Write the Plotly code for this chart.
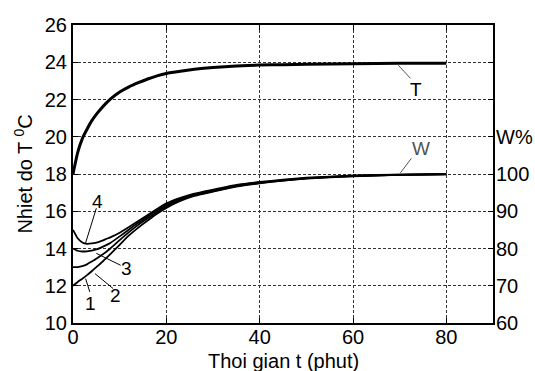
import plotly.graph_objects as go

# time (minutes)
t = [0, 1, 2, 3, 4, 5, 6, 7, 8, 10, 12, 14, 16, 18, 20, 23, 26, 30, 35, 40, 45, 50, 60, 70, 80]

# temperature T (deg C)
T = [18.0, 19.15, 19.9, 20.4, 20.85, 21.2, 21.5, 21.78, 22.02, 22.4, 22.68, 22.9, 23.1,
     23.27, 23.4, 23.52, 23.62, 23.72, 23.8, 23.85, 23.87, 23.89, 23.92, 23.94, 23.95]

# humidity curves (in left-axis units: 10..18 <-> 60..100 %)
W1 = [12.0, 12.2, 12.38, 12.57, 12.78, 13.0, 13.22, 13.46, 13.7, 14.2, 14.7, 15.12, 15.5,
      15.86, 16.18, 16.55, 16.82, 17.05, 17.32, 17.5, 17.64, 17.75, 17.88, 17.95, 17.98]
W2 = [13.0, 13.0, 13.05, 13.15, 13.3, 13.45, 13.62, 13.8, 14.0, 14.45, 14.88, 15.27, 15.62,
      15.95, 16.25, 16.6, 16.86, 17.08, 17.35, 17.52, 17.65, 17.76, 17.89, 17.95, 17.98]
W3 = [14.0, 13.88, 13.84, 13.85, 13.88, 13.95, 14.05, 14.17, 14.3, 14.65, 15.02, 15.38, 15.72,
      16.04, 16.33, 16.66, 16.9, 17.12, 17.38, 17.54, 17.67, 17.78, 17.9, 17.96, 17.99]
W4 = [15.0, 14.55, 14.32, 14.25, 14.27, 14.32, 14.4, 14.5, 14.6, 14.85, 15.15, 15.48, 15.8,
      16.12, 16.42, 16.72, 16.95, 17.16, 17.41, 17.57, 17.69, 17.8, 17.92, 17.97, 18.0]

x_ticks = [0, 20, 40, 60, 80]
y_ticks = [10, 12, 14, 16, 18, 20, 22, 24, 26]
w_tickvals = [10, 12, 14, 16, 18, 20]
w_ticktext = ["60", "70", "80", "90", "100", "W%"]

FONT = "Liberation Sans, Arial, sans-serif"

fig = go.Figure()
fig.add_trace(go.Scatter(x=t, y=T, mode="lines",
                         line=dict(color="black", width=3, shape="spline", smoothing=0.5),
                         showlegend=False))
for W in (W1, W2, W3, W4):
    fig.add_trace(go.Scatter(x=t, y=W, mode="lines",
                             line=dict(color="black", width=1.8, shape="spline", smoothing=0.4),
                             showlegend=False))
# invisible trace for right axis
fig.add_trace(go.Scatter(x=[0], y=[10], yaxis="y2", mode="markers", marker=dict(opacity=0),
                         showlegend=False, hoverinfo="skip"))

# leader lines and labels
leaders = [
    (69.7, 23.84, 72.3, 23.14, "#555"),
    (72.5, 18.84, 70.1, 18.04, "#555"),
    (5.0, 16.16, 2.7, 14.3, "black"),
    (10.2, 13.1, 5.0, 13.74, "black"),
    (8.6, 11.85, 4.7, 12.65, "black"),
    (3.6, 11.67, 2.7, 12.38, "black"),
]
for x0, y0, x1, y1, c in leaders:
    fig.add_shape(type="line", xref="x", yref="y", x0=x0, y0=y0, x1=x1, y1=y1,
                  line=dict(color=c, width=1))

labels = [
    (73.6, 22.55, "T", "black"),
    (74.6, 19.38, "W", "#555"),
    (5.3, 16.51, "4", "black"),
    (11.5, 12.95, "3", "black"),
    (9.2, 11.49, "2", "black"),
    (3.7, 11.04, "1", "black"),
]
for x, y, s, c in labels:
    fig.add_annotation(x=x, y=y, xref="x", yref="y", text=s, showarrow=False,
                       font=dict(family=FONT, size=19, color=c))

# axis titles
fig.add_annotation(x=0.5, y=-0.127, xref="paper", yref="paper", text="Thoi gian t (phut)",
                   showarrow=False, xanchor="center", yanchor="middle",
                   font=dict(family=FONT, size=20, color="black"))
fig.add_annotation(x=-0.12, y=0.5, xref="paper", yref="paper", text="Nhiet do T <sup>0</sup>C",
                   showarrow=False, xanchor="center", yanchor="middle", textangle=-90,
                   font=dict(family=FONT, size=20, color="black"))

fig.update_layout(
    width=535, height=371,
    margin=dict(l=73, r=42, t=25, b=48, autoexpand=False),
    paper_bgcolor="white", plot_bgcolor="white",
    font=dict(family=FONT, size=20, color="black"),
    xaxis=dict(range=[0, 90], tickvals=x_ticks, ticks="inside", ticklen=5, tickcolor="black",
               showline=True, linecolor="black", linewidth=2, mirror="ticks",
               showgrid=True, gridcolor="#333", gridwidth=1, griddash="3px,2px",
               zeroline=False, automargin=False, ticklabelstandoff=-5),
    yaxis=dict(range=[10, 26], tickvals=y_ticks, ticks="inside", ticklen=5, tickcolor="black",
               showline=True, linecolor="black", linewidth=2, mirror="ticks",
               showgrid=True, gridcolor="#333", gridwidth=1, griddash="3px,2px",
               zeroline=False, automargin=False, ticklabelstandoff=0),
    yaxis2=dict(range=[10, 26], overlaying="y", side="right", anchor="x",
                tickvals=w_tickvals, ticktext=w_ticktext, ticks="", showgrid=False,
                zeroline=False, showline=False, automargin=False, ticklabelstandoff=2),
)

fig.write_html("out.html")
